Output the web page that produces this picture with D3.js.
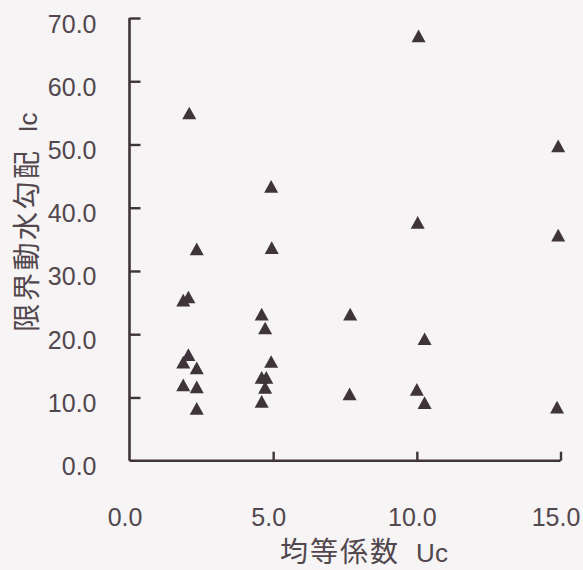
<!DOCTYPE html>
<html><head><meta charset="utf-8">
<script src="https://cdn.jsdelivr.net/npm/d3@7"></script>
<style>
html,body{margin:0;padding:0;background:#f6f4f5;}
svg{display:block;}
</style></head>
<body>
<svg id="chart" width="583" height="570"></svg>
<script>
// Data: uniformity coefficient Uc (x) vs critical hydraulic gradient Ic (y)
const ucValues = [2.34, 4.95, 1.87, 2.05, 4.6, 4.72, 2.05, 1.87, 2.34, 1.87, 2.34, 2.34, 4.93, 4.6, 4.76, 4.72, 4.6, 4.93, 7.68, 7.66, 2.08, 10.06, 10.03, 10.27, 10.0, 10.27, 14.92, 14.92, 14.88];
const icValues = [33.3, 33.5, 25.2, 25.7, 23.0, 20.8, 16.6, 15.4, 14.5, 11.8, 11.5, 8.1, 15.5, 13.0, 13.0, 11.4, 9.2, 43.2, 23.0, 10.4, 54.8, 67.0, 37.5, 19.1, 11.1, 9.0, 49.6, 35.5, 8.3];
const xTicks = [0, 5, 10, 15];
const yTicks = [0, 10, 20, 30, 40, 50, 60, 70];
const xTitle = ["均等係数", "Uc"];
const yTitle = ["限界動水勾配", "Ic"];

const points = ucValues.map((u, i) => ({u, ic: icValues[i]}));

const svg = d3.select("#chart");
const ink = "#3e3439";
const textCol = "#51474d";

const x = d3.scaleLinear().domain([0, 15]).range([129.5, 560.5]);
const y = d3.scaleLinear().domain([0, 70]).range([460.7, 18]);

// Axes
const yAxis = d3.axisLeft(y).tickValues(yTicks).tickSize(-11).tickFormat(d => d.toFixed(1)).tickPadding(0);
const xAxis = d3.axisBottom(x).tickValues(xTicks).tickSize(-9).tickFormat(d => d.toFixed(1)).tickPadding(0);

const gy = svg.append("g").attr("transform", `translate(${x(0)},0)`).call(yAxis);
const gx = svg.append("g").attr("transform", `translate(0,${y(0)})`).call(xAxis);

[gy, gx].forEach(g => {
  g.select(".domain").attr("stroke", ink).attr("stroke-width", 2.6);
  g.selectAll(".tick line").attr("stroke", ink).attr("stroke-width", 2.4);
  g.selectAll(".tick text").attr("fill", textCol)
    .style("font-family", "'Liberation Sans', Arial, sans-serif").style("font-size", "25px");
});
gy.select(".domain").attr("d", `M0,${y(0)}V${y(70)}`);
gx.select(".domain").attr("d", `M${x(0)},0H${x(15)}`);
gx.selectAll(".tick").filter(d => d === 0).select("line").remove();
gy.selectAll(".tick").filter(d => d === 0).select("line").remove();

gy.selectAll(".tick text").attr("x", -33).attr("dy", "0.32em").attr("y", 6).attr("text-anchor", "end");
gx.selectAll(".tick text").attr("y", 57).attr("dy", "0.32em").attr("x", -5).attr("text-anchor", "middle");

// Titles
function title(parent, parts, spacing) {
  const t = parent.append("text")
    .attr("text-anchor", "middle")
    .attr("fill", textCol)
    .style("font-family", "'Noto Sans CJK JP', sans-serif")
    .style("font-size", "28px");
  t.append("tspan").style("letter-spacing", spacing + "px").text(parts[0]);
  t.append("tspan").attr("dx", 16)
    .style("font-family", "'Liberation Sans', Arial, sans-serif")
    .style("font-size", "26px").text(parts[1]);
  return t;
}
title(svg, xTitle, 2).attr("x", 364).attr("y", 562);
title(svg, yTitle, 2.5).attr("transform", `translate(37,${222}) rotate(-90)`);

// Triangle markers
svg.append("g").selectAll("path").data(points).join("path")
  .attr("transform", d => `translate(${x(d.u)},${y(d.ic)})`)
  .attr("d", "M0,-7.5L7,5.2L-7,5.2Z")
  .attr("fill", ink);
</script>
</body></html>
